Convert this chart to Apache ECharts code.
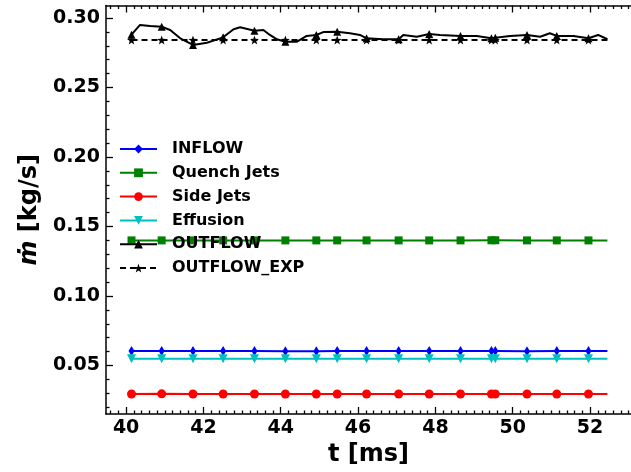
<!DOCTYPE html>
<html><head><meta charset="utf-8">
<script src="https://cdn.jsdelivr.net/npm/echarts@6/dist/echarts.min.js"></script>
<style>html,body{margin:0;padding:0;background:#fff}#c{width:631px;height:472px}</style>
</head><body><div id="c"></div>
<script>
// ---- data ----
const markerT = [40.14,40.92,41.73,42.51,43.32,44.12,44.92,45.46,46.22,47.05,47.84,48.65,49.45,49.55,50.37,51.14,51.96];
const endT = 52.45;
const inflowV  = [0.0605,0.0605,0.0605,0.0605,0.0605,0.0603,0.0603,0.0604,0.0605,0.0604,0.0604,0.0605,0.0605,0.0605,0.0603,0.0605,0.0605,0.0605];
const quenchV  = [0.1400,0.1400,0.1400,0.1400,0.1400,0.1400,0.1400,0.1400,0.1400,0.1400,0.1400,0.1400,0.1401,0.1401,0.1400,0.1400,0.1400,0.1400];
const sideV    = [0.0295,0.0296,0.0295,0.0295,0.0295,0.0295,0.0295,0.0295,0.0295,0.0295,0.0295,0.0295,0.0295,0.0295,0.0295,0.0295,0.0295,0.0295];
const effusionV= [0.0549,0.0549,0.0549,0.0549,0.0549,0.0549,0.0549,0.0549,0.0549,0.0549,0.0549,0.0549,0.0549,0.0549,0.0549,0.0549,0.0549,0.0549];
const outflowT = [40.14,40.36,40.62,40.92,41.14,41.40,41.73,42.09,42.51,42.78,42.95,43.32,43.55,43.72,43.90,44.12,44.41,44.67,44.92,45.10,45.46,45.79,46.05,46.22,46.65,47.05,47.17,47.52,47.84,48.12,48.65,49.07,49.45,49.55,49.93,50.37,50.71,50.96,51.14,51.57,51.96,52.21,52.45];
const outflowV = [0.2880,0.2950,0.2942,0.2937,0.2914,0.2854,0.2806,0.2822,0.2861,0.2919,0.2933,0.2909,0.2914,0.2878,0.2847,0.2829,0.2829,0.2871,0.2878,0.2899,0.2901,0.2890,0.2878,0.2854,0.2847,0.2847,0.2878,0.2865,0.2885,0.2878,0.2871,0.2871,0.2854,0.2858,0.2871,0.2878,0.2865,0.2890,0.2871,0.2871,0.2854,0.2878,0.2847];
const outExpV  = [0.2842,0.2842,0.2842,0.2842,0.2842,0.2842,0.2842,0.2842,0.2842,0.2842,0.2842,0.2842,0.2842,0.2842,0.2842,0.2842,0.2842,0.2842];
const names = ['INFLOW','Quench Jets','Side Jets','Effusion','OUTFLOW','OUTFLOW_EXP'];
const xTicks = [40,42,44,46,48,50,52];
const yTicks = [0.05,0.10,0.15,0.20,0.25,0.30];
const xRange = [39.48, 53.06];
const yRange = [0.0151, 0.309];

// ---- helpers ----
const mset = new Set(markerT.map(v=>v.toFixed(2)));
const flatT = markerT.concat([endT]);
const pairs = (ts, vs) => ts.map((t,i)=>[t, vs[i]]);
const minorX = [], minorY = [];
for (let k = Math.round(xRange[0]*5); k <= Math.round(xRange[1]*5); k++) { const v=k/5; if (v>=xRange[0] && v<=xRange[1] && k%10!==0) minorX.push(v); }
for (let k = Math.ceil(yRange[0]*100); k <= Math.floor(yRange[1]*100); k++) { if (k%5!==0) minorY.push(k/100); }
const FONT = 'DejaVu Sans';
const star = 'path://M0,-10 L2.35,-3.24 9.51,-3.09 3.8,1.24 5.88,8.09 0,4 -5.88,8.09 -3.8,1.24 -9.51,-3.09 -2.35,-3.24Z';
const thinDiamond = 'path://M0,-10 L6,0 0,10 -6,0Z';
const symSize = (s) => (val) => mset.has(val[0].toFixed(2)) ? s : 0;

function mkSeries(name, data, color, symbol, size, extra) {
  return Object.assign({
    name, type:'line', data, color, symbol, symbolSize: symSize(size),
    showSymbol:true, showAllSymbol:true, animation:false,
    lineStyle:{color, width:2}, itemStyle:{color},
    xAxisIndex:0, yAxisIndex:0, z:3
  }, extra||{});
}

const series = [
  mkSeries(names[0], pairs(flatT, inflowV), '#0000ff', thinDiamond, 10, {symbolKeepAspect:true}),
  mkSeries(names[1], pairs(flatT, quenchV), '#008000', 'rect', 8),
  mkSeries(names[2], pairs(flatT, sideV), '#ff0000', 'circle', 9),
  mkSeries(names[3], pairs(flatT, effusionV), '#00bfbf', 'triangle', 9, {symbolRotate:180}),
  mkSeries(names[4], pairs(outflowT, outflowV), '#000000', 'triangle', 8),
  mkSeries(names[5], pairs(flatT, outExpV), '#000000', star, 9, {lineStyle:{color:'#000', width:2, type:[6,4]}})
];

const axBase = {type:'value', axisPointer:{show:false}, splitLine:{show:false}};
const tickLine = {lineStyle:{color:'#000', width:1.3}};
const xAxes = [
  Object.assign({}, axBase, {position:'bottom', min:xRange[0], max:xRange[1],
    axisLine:{show:true, onZero:false, lineStyle:{color:'#000', width:1.5}},
    axisTick:Object.assign({show:true, inside:true, length:7, customValues:xTicks}, tickLine),
    axisLabel:{customValues:xTicks, color:'#000', fontFamily:FONT, fontWeight:'bold', fontSize:19, margin:5},
    name:'t [ms]', nameLocation:'middle', nameGap:26,
    nameTextStyle:{color:'#000', fontFamily:FONT, fontWeight:'bold', fontSize:24}}),
  Object.assign({}, axBase, {position:'bottom', min:xRange[0], max:xRange[1],
    axisLine:{show:false, onZero:false}, axisLabel:{show:false},
    axisTick:Object.assign({show:true, inside:true, length:3.5, customValues:minorX}, tickLine)}),
  Object.assign({}, axBase, {position:'top', min:xRange[0], max:xRange[1],
    axisLine:{show:true, onZero:false, lineStyle:{color:'#000', width:1.5}}, axisLabel:{show:false},
    axisTick:Object.assign({show:true, inside:true, length:7, customValues:xTicks}, tickLine)}),
  Object.assign({}, axBase, {position:'top', min:xRange[0], max:xRange[1],
    axisLine:{show:false, onZero:false}, axisLabel:{show:false},
    axisTick:Object.assign({show:true, inside:true, length:3.5, customValues:minorX}, tickLine)})
];
const yAxes = [
  Object.assign({}, axBase, {position:'left', min:yRange[0], max:yRange[1],
    axisLine:{show:true, onZero:false, lineStyle:{color:'#000', width:1.5}},
    axisTick:Object.assign({show:true, inside:true, length:7, customValues:yTicks}, tickLine),
    axisLabel:{customValues:yTicks, formatter:(v)=>v.toFixed(2), color:'#000', fontFamily:FONT, fontWeight:'bold', fontSize:19, margin:6},
    name:'{m|ṁ} [kg/s]', nameLocation:'middle', nameGap:62,
    nameTextStyle:{color:'#000', fontFamily:FONT, fontWeight:'bold', fontSize:24,
      rich:{m:{fontStyle:'italic', fontFamily:FONT, fontWeight:'bold', fontSize:24, color:'#000'}}}}),
  Object.assign({}, axBase, {position:'left', min:yRange[0], max:yRange[1],
    axisLine:{show:false, onZero:false}, axisLabel:{show:false},
    axisTick:Object.assign({show:true, inside:true, length:3.5, customValues:minorY}, tickLine)})
];

const chart = echarts.init(document.getElementById('c'), null, {renderer:'canvas'});
chart.setOption({
  animation:false,
  backgroundColor:'#fff',
  grid:{left:106, right:0, top:5.5, bottom:58, containLabel:false},
  xAxis:xAxes, yAxis:yAxes,
  legend:{show:true, orient:'vertical', left:114, top:136, itemWidth:37, itemHeight:11, itemGap:7.8,
    data:names, selectedMode:false,
    textStyle:{color:'#000', fontFamily:FONT, fontWeight:'bold', fontSize:16, lineHeight:15, padding:[0,0,0,10]}},
  series
});
</script></body></html>
